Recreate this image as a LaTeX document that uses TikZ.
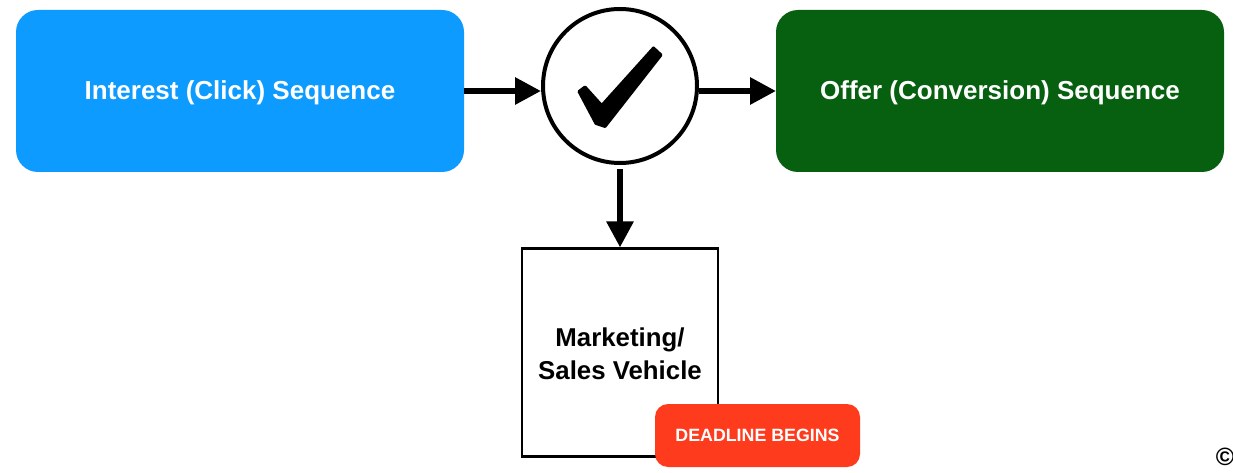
\documentclass[tikz,border=0pt]{standalone}
\usepackage{fontspec}
\setmainfont{Liberation Sans}
\usetikzlibrary{shapes,arrows.meta}
\definecolor{clickblue}{HTML}{0D9BFF}
\definecolor{offergreen}{HTML}{07600F}
\definecolor{deadlinered}{HTML}{FF3B1E}
\tikzset{
	seqbox/.style={rounded corners=22pt,minimum width=448pt,minimum height=162pt,inner sep=0pt,outer sep=0pt,text=white,text height=18pt,text depth=0pt,font=\fontsize{26}{31}\selectfont\bfseries},
	flow/.style={line width=6pt,-{Triangle[length=26pt,width=26pt]},shorten >=0pt}
}

\begin{document}
\begin{tikzpicture}[x=1pt,y=-1pt]
	\useasboundingbox (0,0) rectangle (1233,473);
	\fill[white] (0,0) rectangle (1233,473);

	\node[seqbox,fill=clickblue] (interest) at (240,91) {Interest (Click) Sequence};
	\node[seqbox,fill=offergreen] (offer) at (1000,91) {Offer (Conversion) Sequence};
	\node[circle,draw,line width=4pt,minimum size=154pt,inner sep=0pt,outer sep=2pt] (check) at (620,86) {};
	\node[draw,line width=2.2pt,minimum width=196pt,minimum height=208pt,inner sep=0pt,outer sep=1.1pt] (vehicle) at (620,352.5) {};
	\node[align=center,font=\fontsize{25.8}{33}\selectfont\bfseries] (vehiclelabel) at (620,354) {Marketing/\\Sales Vehicle};
	\node[fill=deadlinered,rounded corners=13pt,minimum width=205pt,minimum height=63pt,inner sep=0pt,text=white,font=\fontsize{17.8}{21}\selectfont\bfseries] (deadline) at (757.5,435.5) {DEADLINE BEGINS};
	\node[font=\fontsize{25}{30}\selectfont\bfseries,inner sep=0pt] (copyright) at (1225,457) {©};

	\filldraw[line width=3pt,line join=round] (579,91.5) -- (585,87) -- (601.7,105.5) -- (653.5,48) -- (661,55) -- (605,126.5) -- (596,123.5) -- cycle;

	\draw[flow] (interest.east) -- (interest.east -| check.west);
	\draw[flow] (check.east |- offer.west) -- (offer.west);
	\draw[flow,shorten <=4pt] (check.south) -- (vehicle.north);
\end{tikzpicture}
\end{document}
